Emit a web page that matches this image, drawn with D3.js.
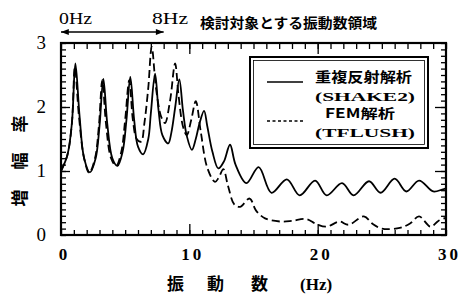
<!DOCTYPE html>
<html>
<head>
<meta charset="utf-8">
<script src="https://cdn.jsdelivr.net/npm/d3@7"></script>
<style>
  body { margin: 0; background: #fff; }
  svg { display: block; }
  .tick text { fill: #000; }
</style>
</head>
<body>
<svg id="chart" width="472" height="294"></svg>
<script>
// data (Hz, amplification)
var shakeHz = [0, 0.5, 0.85, 1.12, 1.45, 1.8, 2.25, 2.7, 3.0, 3.3, 3.6, 4.0, 4.4, 4.8, 5.1, 5.4, 5.7, 6.0, 6.4, 6.8, 7.0, 7.33, 7.6, 7.9, 8.35, 8.6, 8.9, 9.22, 9.5, 9.8, 10.2, 10.5, 10.8, 11.15, 11.4, 11.8, 12.26, 12.7, 13.17, 13.6, 14.45, 15.4, 16.4, 17.6, 18.6, 19.8, 20.7, 21.9, 22.8, 24.0, 24.9, 26.0, 26.9, 27.9, 29.0, 29.7, 30];
var shakeAmp = [1.0, 1.25, 1.75, 2.68, 1.85, 1.2, 0.98, 1.2, 1.7, 2.44, 1.75, 1.2, 1.08, 1.3, 1.8, 2.47, 1.8, 1.38, 1.26, 1.5, 1.9, 2.52, 1.95, 1.56, 1.43, 1.6, 2.0, 2.43, 1.95, 1.55, 1.33, 1.5, 1.75, 1.94, 1.7, 1.3, 1.04, 1.15, 1.41, 1.1, 0.81, 1.06, 0.66, 0.87, 0.62, 0.85, 0.62, 0.81, 0.62, 0.84, 0.66, 0.88, 0.68, 0.85, 0.68, 0.71, 0.73];

var femHz = [0, 0.5, 0.85, 1.08, 1.4, 1.8, 2.2, 2.65, 2.95, 3.22, 3.5, 3.9, 4.3, 4.7, 5.0, 5.32, 5.6, 5.9, 6.24, 6.5, 6.8, 7.07, 7.4, 7.8, 8.1, 8.5, 8.89, 9.15, 9.5, 9.8, 10.15, 10.5, 10.9, 11.4, 12.0, 12.3, 12.65, 13.0, 13.5, 13.95, 14.7, 15.2, 15.9, 17.1, 18.0, 19.1, 19.9, 20.7, 21.7, 22.4, 23.6, 24.3, 25.0, 26.4, 27.2, 27.9, 28.8, 29.4, 30];
var femAmp = [1.0, 1.25, 1.75, 2.62, 1.85, 1.2, 0.97, 1.2, 1.7, 2.42, 1.75, 1.2, 1.08, 1.3, 1.8, 2.42, 1.8, 1.5, 1.46, 1.75, 2.3, 2.94, 2.3, 1.85, 1.75, 2.1, 2.68, 2.2, 1.7, 1.56, 1.8, 2.09, 1.6, 1.05, 0.83, 0.9, 1.03, 0.78, 0.48, 0.44, 0.57, 0.38, 0.26, 0.21, 0.22, 0.25, 0.17, 0.13, 0.21, 0.16, 0.29, 0.17, 0.10, 0.11, 0.18, 0.29, 0.13, 0.22, 0.27];

var xTicks = [0, 10, 20, 30];
var yTicks = [0, 1, 2, 3];

var svg = d3.select("#chart");
var plotL = 61, plotR = 446, plotT = 43, plotB = 235;

var x = d3.scaleLinear().domain([0, 30]).range([plotL, plotR]);
var y = d3.scaleLinear().domain([0, 3]).range([plotB, plotT]);

var cjk = "'Noto Sans CJK JP', sans-serif";
var serif = "'Liberation Serif', 'DejaVu Serif', serif";

// inward ticks on all four sides
function ticks(axis, tr, vals, size) {
  var g = svg.append("g").attr("transform", tr)
    .call(axis.tickValues(vals).tickSize(size).tickFormat(""));
  g.select(".domain").remove();
  g.selectAll("line").attr("stroke", "#000").attr("stroke-width", 1.3);
}
var minorX = d3.range(0, 31, 1), minorY = d3.range(0, 30.5, 1).map(function(d) { return d / 10; });
ticks(d3.axisBottom(x), "translate(0," + plotB + ")", minorX, -5);
ticks(d3.axisBottom(x), "translate(0," + plotB + ")", [10, 20], -11);
ticks(d3.axisTop(x), "translate(0," + plotT + ")", minorX, -6);
ticks(d3.axisTop(x), "translate(0," + plotT + ")", [10, 20], -11);
ticks(d3.axisLeft(y), "translate(" + plotL + ",0)", minorY, -5);
ticks(d3.axisLeft(y), "translate(" + plotL + ",0)", [1, 2], -9);
ticks(d3.axisRight(y), "translate(" + plotR + ",0)", minorY, -5);
ticks(d3.axisRight(y), "translate(" + plotR + ",0)", [1, 2], -11);

// tick labels
var xl = svg.append("g").attr("transform", "translate(3," + (plotB + 10) + ")")
  .call(d3.axisBottom(x).tickValues(xTicks).tickSize(0).tickFormat(d3.format("d")));
xl.select(".domain").remove();
xl.selectAll("text").attr("font-family", serif).attr("font-weight", "bold")
  .attr("font-size", 17).attr("letter-spacing", 3);

var yl = svg.append("g").attr("transform", "translate(" + (plotL - 12) + ",-1)")
  .call(d3.axisLeft(y).tickValues(yTicks).tickSize(0).tickFormat(d3.format("d")));
yl.select(".domain").remove();
yl.selectAll("text").attr("font-family", serif).attr("font-size", 19);

// frame
svg.append("rect").attr("x", plotL).attr("y", plotT)
  .attr("width", plotR - plotL).attr("height", plotB - plotT)
  .attr("fill", "none").attr("stroke", "#000").attr("stroke-width", 2.2);

// curves
svg.append("clipPath").attr("id", "plot").append("rect")
  .attr("x", plotL).attr("y", plotT - 2).attr("width", plotR - plotL).attr("height", plotB - plotT + 2);

var line = d3.line().x(function(d) { return x(d[0]); }).y(function(d) { return y(d[1]); })
  .curve(d3.curveCatmullRom.alpha(0.5));

svg.append("path").datum(d3.zip(shakeHz, shakeAmp))
  .attr("clip-path", "url(#plot)")
  .attr("d", line).attr("fill", "none").attr("stroke", "#000").attr("stroke-width", 1.8);

svg.append("path").datum(d3.zip(femHz, femAmp))
  .attr("clip-path", "url(#plot)")
  .attr("d", line).attr("fill", "none").attr("stroke", "#000").attr("stroke-width", 1.8)
  .attr("stroke-dasharray", "8,4");

// legend
svg.append("rect").attr("x", 250).attr("y", 57).attr("width", 178).attr("height", 91)
  .attr("fill", "#fff").attr("stroke", "#000").attr("stroke-width", 2);
svg.append("rect").attr("x", 253.5).attr("y", 60.5).attr("width", 171).attr("height", 84)
  .attr("fill", "none").attr("stroke", "#000").attr("stroke-width", 0.8);

svg.append("line").attr("x1", 267).attr("x2", 303).attr("y1", 82).attr("y2", 82)
  .attr("stroke", "#000").attr("stroke-width", 1.3);
svg.append("line").attr("x1", 267).attr("x2", 303).attr("y1", 121).attr("y2", 121)
  .attr("stroke", "#000").attr("stroke-width", 1.3).attr("stroke-dasharray", "3,2.5");

function label(txt, px, py, w, size, fam, weight) {
  svg.append("text").attr("x", px).attr("y", py).text(txt)
    .attr("font-family", fam).attr("font-size", size).attr("font-weight", weight || "normal")
    .attr("textLength", w).attr("lengthAdjust", "spacingAndGlyphs");
}
label("重複反射解析", 315, 82, 97, 14, cjk, "bold");
label("(SHAKE2)", 315, 101, 100, 13, serif, "bold");
label("FEM解析", 325, 118, 70, 13, cjk, "bold");
label("(TFLUSH)", 315, 137, 100, 13, serif, "bold");

// top annotation
label("0Hz", 59, 24, 33, 17, serif);
label("8Hz", 152, 24, 36, 17, serif);
label("検討対象とする振動数領域", 200, 28, 177, 14, cjk, "bold");

svg.append("defs").html(
  '<marker id="ah" viewBox="0 0 10 10" refX="10" refY="5" markerWidth="9" markerHeight="6" orient="auto-start-reverse">' +
  '<path d="M0,1 L10,5 L0,9 z" fill="#000"/></marker>');
svg.append("line").attr("x1", x(0)).attr("x2", x(8)).attr("y1", 32).attr("y2", 32)
  .attr("stroke", "#000").attr("stroke-width", 1.3)
  .attr("marker-start", "url(#ah)").attr("marker-end", "url(#ah)");

// axis titles
var xt = svg.append("text").attr("y", 290).attr("font-family", cjk)
  .attr("font-size", 17).attr("font-weight", "bold");
xt.append("tspan").attr("x", 167).text("振");
xt.append("tspan").attr("x", 207).text("動");
xt.append("tspan").attr("x", 251).text("数");
xt.append("tspan").attr("x", 300).attr("font-family", serif).attr("font-size", 17).text("(Hz)");

svg.append("text").attr("transform", "translate(26,151) rotate(-90)")
  .attr("text-anchor", "middle").attr("font-family", cjk).attr("font-size", 17)
  .attr("font-weight", "bold").attr("letter-spacing", 20).text("増幅率");
</script>
</body>
</html>
